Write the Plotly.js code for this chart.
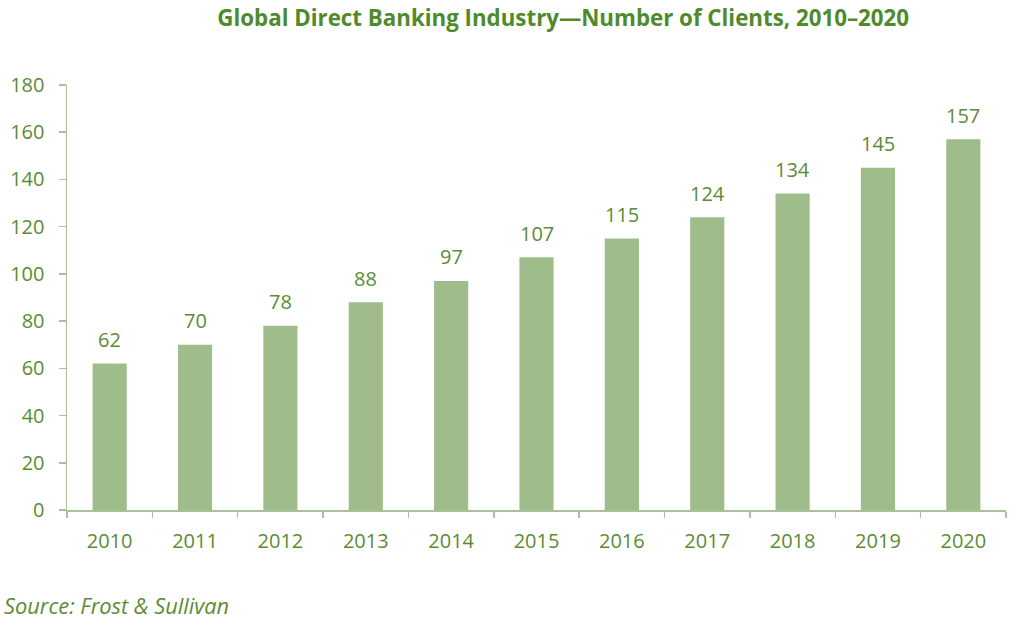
<!DOCTYPE html>
<html>
<head>
<meta charset="utf-8">
<script src="https://cdn.plot.ly/plotly-3.0.1.min.js"></script>
<style>html,body{margin:0;padding:0;background:#fff;}#chart{width:1024px;height:627px;}</style>
</head>
<body>
<div id="chart"></div>
<script>
const years = ["2010","2011","2012","2013","2014","2015","2016","2017","2018","2019","2020"];
const clients = [62, 70, 78, 88, 97, 107, 115, 124, 134, 145, 157];
const yTicks = [0, 20, 40, 60, 80, 100, 120, 140, 160, 180];
const titleText = "Global Direct Banking Industry\u2014Number of Clients, 2010\u20132020";
const sourceText = "Source: Frost & Sullivan";

const green = "#5B8C35";
const fontFam = "Open Sans, Noto Sans, sans-serif";

const trace = {
  type: "bar",
  x: years,
  y: clients,
  marker: {color: "#9FBD8A"},
  hoverinfo: "x+y"
};

const labelAnns = years.map((yr, i) => ({
  x: i, y: clients[i], xref: "x", yref: "y",
  text: String(clients[i]),
  showarrow: false, xanchor: "center", yanchor: "middle", yshift: 24,
  font: {family: fontFam, size: 20, color: green}
}));

const layout = {
  width: 1024, height: 627,
  margin: {l: 67, r: 18, t: 85, b: 117},
  paper_bgcolor: "#ffffff", plot_bgcolor: "#ffffff",
  bargap: 0.6,
  showlegend: false,
  title: {
    text: "<b>" + titleText + "</b>",
    font: {family: fontFam, size: 22.3, color: "#4F8A2B"},
    x: 0.55, xanchor: "center", y: 0.971, yanchor: "middle"
  },
  xaxis: {
    type: "category",
    range: [-0.5, years.length - 0.5],
    showline: true, linecolor: "#A9C09A", linewidth: 1.5,
    ticks: "outside", tickson: "boundaries", ticklen: 6, tickcolor: "#A9C09A", tickwidth: 1.5,
    tickfont: {family: fontFam, size: 20, color: green},
    tickangle: 0,
    ticklabelstandoff: 12,
    showgrid: false, zeroline: false
  },
  yaxis: {
    range: [0, 180],
    tickvals: yTicks,
    showline: true, linecolor: "#A9C09A", linewidth: 1.5,
    ticks: "outside", ticklen: 7, tickcolor: "#A9C09A", tickwidth: 1.5,
    tickfont: {family: fontFam, size: 20, color: green},
    ticklabelstandoff: 10,
    showgrid: false, zeroline: false
  },
  annotations: labelAnns.concat([{
    text: "<i>" + sourceText + "</i>",
    xref: "paper", yref: "paper",
    x: -65/939, y: -95/425,
    xanchor: "left", yanchor: "middle",
    showarrow: false,
    font: {family: fontFam, size: 21.8, color: green}
  }])
};

Plotly.newPlot("chart", [trace], layout, {displayModeBar: false, staticPlot: true});
</script>
</body>
</html>
